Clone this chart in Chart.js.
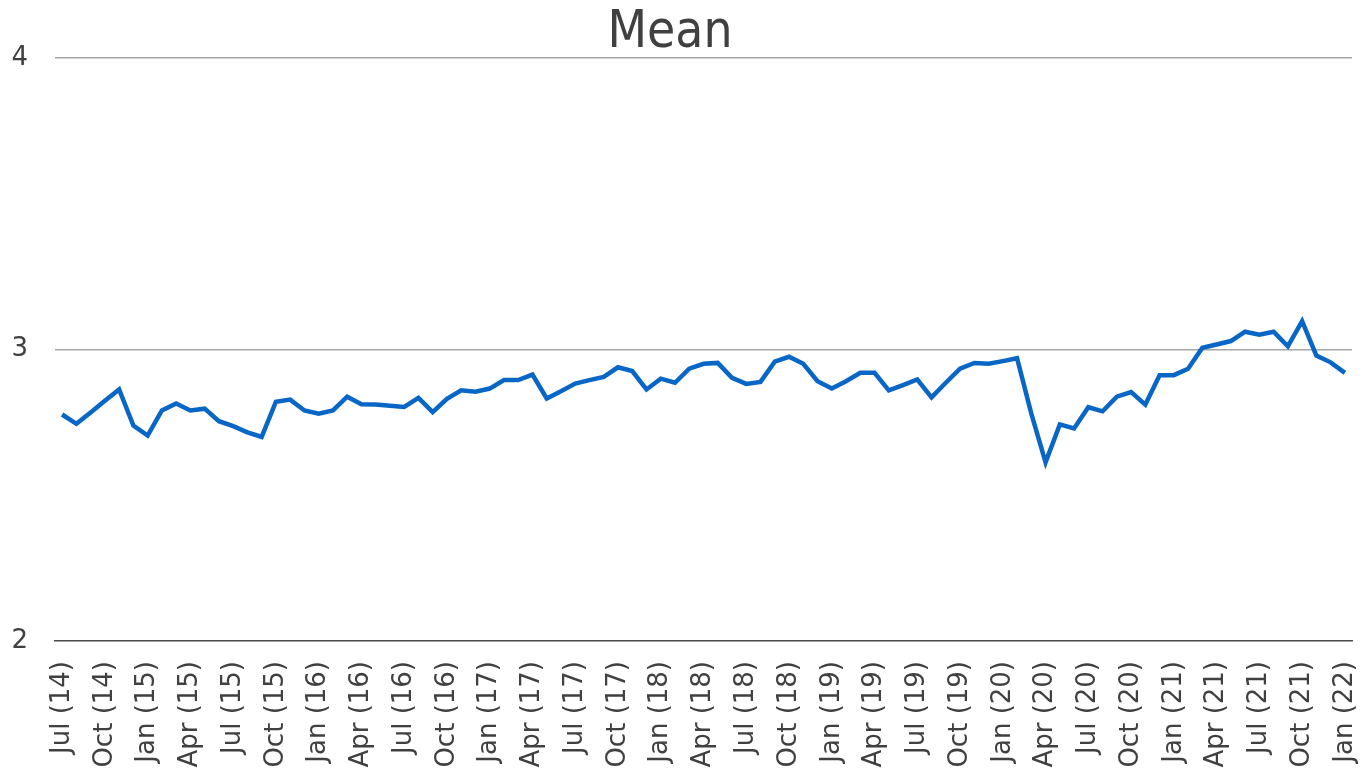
<!DOCTYPE html>
<html>
<head>
<meta charset="utf-8">
<script src="https://cdn.jsdelivr.net/npm/chart.js@4.4.1/dist/chart.umd.min.js"></script>
<style>
  html, body { margin: 0; padding: 0; background: #ffffff; }
  #wrap { width: 1368px; height: 778px; position: relative; }
</style>
</head>
<body>
<div id="wrap"><canvas id="c"></canvas></div>
<script>
const categories = [
  "Jul (14)","Aug (14)","Sep (14)","Oct (14)","Nov (14)","Dec (14)",
  "Jan (15)","Feb (15)","Mar (15)","Apr (15)","May (15)","Jun (15)",
  "Jul (15)","Aug (15)","Sep (15)","Oct (15)","Nov (15)","Dec (15)",
  "Jan (16)","Feb (16)","Mar (16)","Apr (16)","May (16)","Jun (16)",
  "Jul (16)","Aug (16)","Sep (16)","Oct (16)","Nov (16)","Dec (16)",
  "Jan (17)","Feb (17)","Mar (17)","Apr (17)","May (17)","Jun (17)",
  "Jul (17)","Aug (17)","Sep (17)","Oct (17)","Nov (17)","Dec (17)",
  "Jan (18)","Feb (18)","Mar (18)","Apr (18)","May (18)","Jun (18)",
  "Jul (18)","Aug (18)","Sep (18)","Oct (18)","Nov (18)","Dec (18)",
  "Jan (19)","Feb (19)","Mar (19)","Apr (19)","May (19)","Jun (19)",
  "Jul (19)","Aug (19)","Sep (19)","Oct (19)","Nov (19)","Dec (19)",
  "Jan (20)","Feb (20)","Mar (20)","Apr (20)","May (20)","Jun (20)",
  "Jul (20)","Aug (20)","Sep (20)","Oct (20)","Nov (20)","Dec (20)",
  "Jan (21)","Feb (21)","Mar (21)","Apr (21)","May (21)","Jun (21)",
  "Jul (21)","Aug (21)","Sep (21)","Oct (21)","Nov (21)","Dec (21)",
  "Jan (22)"
];

const meanValues = [
  2.777, 2.745, 2.784, 2.824, 2.863, 2.739,
  2.705, 2.791, 2.815, 2.791, 2.797, 2.754,
  2.737, 2.716, 2.700, 2.821, 2.828, 2.791,
  2.780, 2.791, 2.838, 2.812, 2.811, 2.807,
  2.803, 2.834, 2.785, 2.831, 2.860, 2.855,
  2.866, 2.895, 2.895, 2.914, 2.832, 2.857,
  2.883, 2.895, 2.906, 2.939, 2.926, 2.863,
  2.900, 2.886, 2.934, 2.951, 2.954, 2.903,
  2.882, 2.889, 2.958, 2.975, 2.951, 2.891,
  2.866, 2.891, 2.920, 2.920, 2.860, 2.878,
  2.897, 2.836, 2.886, 2.934, 2.954, 2.951,
  2.960, 2.970, 2.780, 2.613, 2.743, 2.729,
  2.802, 2.788, 2.838, 2.854, 2.811, 2.912,
  2.912, 2.934, 3.006, 3.017, 3.029, 3.061,
  3.051, 3.061, 3.011, 3.097, 2.979, 2.956,
  2.920
];

const yTicks = [2, 3, 4];
const labelEvery = 3;
const chartTitle = 'Mean';

const textColor = '#404040';

const titlePlugin = {
  id: 'offsetTitle',
  afterDraw(chart) {
    const ctx = chart.ctx;
    ctx.save();
    ctx.fillStyle = textColor;
    ctx.font = 'normal 51px "DejaVu Sans Condensed"';
    ctx.textAlign = 'center';
    ctx.textBaseline = 'alphabetic';
    ctx.fillText(chartTitle, chart.width / 2 - 14, 47);
    ctx.restore();
  }
};

new Chart(document.getElementById('c'), {
  type: 'line',
  data: {
    labels: categories,
    datasets: [{
      label: chartTitle,
      data: meanValues,
      borderColor: '#0866C6',
      borderWidth: 4.5,
      pointRadius: 0,
      pointHoverRadius: 0,
      tension: 0,
      fill: false
    }]
  },
  plugins: [titlePlugin],
  options: {
    responsive: true,
    maintainAspectRatio: false,
    animation: false,
    layout: { padding: { left: 12, right: 16, top: 58, bottom: 0 } },
    plugins: {
      legend: { display: false },
      tooltip: { enabled: false },
      title: { display: false }
    },
    scales: {
      x: {
        type: 'category',
        offset: true,
        grid: { display: false, drawTicks: false },
        border: { display: true, color: '#4a4a4a', width: 1.5 },
        afterFit(axis) { axis.paddingLeft = 0; axis.paddingRight = 0; axis.height = 137; },
        ticks: {
          autoSkip: false,
          maxRotation: 90,
          minRotation: 90,
          padding: 20,
          color: textColor,
          font: { family: 'DejaVu Sans', size: 26 },
          callback: function (val, idx) {
            return idx % labelEvery === 0 ? categories[idx] : '';
          }
        }
      },
      y: {
        min: yTicks[0],
        max: yTicks[yTicks.length - 1],
        afterBuildTicks: function (axis) {
          axis.ticks = yTicks.map(v => ({ value: v }));
        },
        afterFit(axis) { axis.width = 43; },
        grid: {
          drawTicks: false,
          color: function (ctx) { return ctx.tick && ctx.tick.value === yTicks[0] ? 'rgba(0,0,0,0)' : '#a6a6a6'; },
          lineWidth: 1.5
        },
        border: { display: false },
        ticks: {
          padding: 27,
          color: textColor,
          font: { family: 'DejaVu Sans', size: 26 }
        }
      }
    }
  }
});
</script>
</body>
</html>
